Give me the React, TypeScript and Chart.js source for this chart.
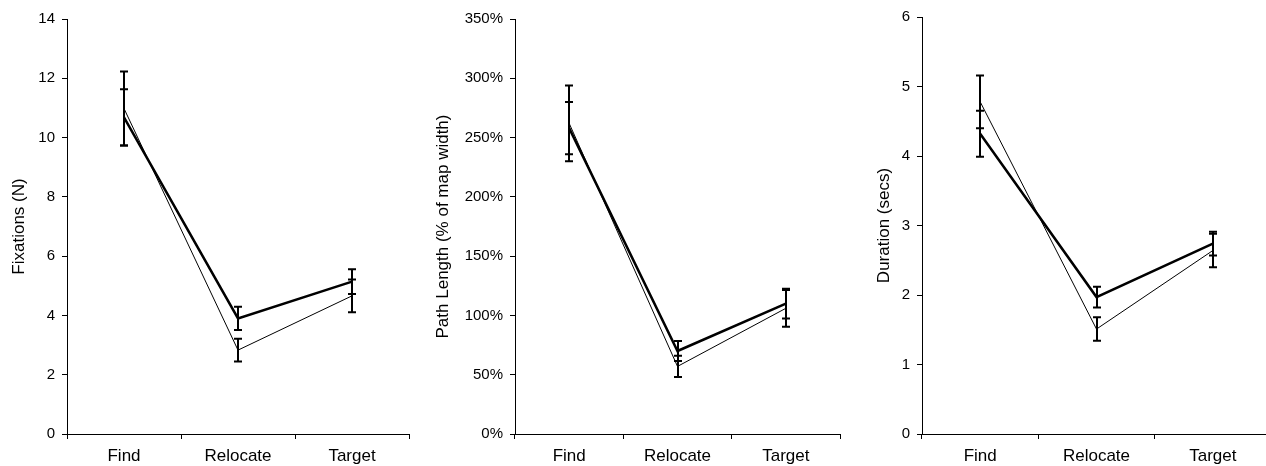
import React, { useEffect, useRef } from "react";
import { Chart, registerables } from "chart.js";

Chart.register(...registerables);

const categories = ["Find", "Relocate", "Target"];

// Panel 1: Fixations (N)
const fixThick = [10.68, 3.9, 5.14];
const fixThickErr = [0.95, 0.39, 0.42];
const fixThin = [10.98, 2.83, 4.66];
const fixThinErr = [1.25, 0.38, 0.55];

// Panel 2: Path length (% of map width)
const pathThick = [258, 70, 110];
const pathThickErr = [22, 8.5, 12.5];
const pathThin = [262, 57, 106];
const pathThinErr = [32, 9, 15.5];

// Panel 3: Duration (secs)
const durThick = [4.32, 1.97, 2.74];
const durThickErr = [0.33, 0.15, 0.17];
const durThin = [4.78, 1.51, 2.64];
const durThinErr = [0.38, 0.17, 0.24];

const FONT = "'Liberation Sans', Arial, Helvetica, sans-serif";

const errorBars = {
  id: "errorBars",
  afterDatasetsDraw(chart: any) {
    const ctx = chart.ctx;
    const xs = chart.scales.x;
    const ys = chart.scales.y;
    chart.data.datasets.forEach((ds: any) => {
      const errs = ds.errors || [];
      ds.data.forEach((v: number, i: number) => {
        const e = errs[i];
        if (e == null) return;
        const px = Math.round(xs.getPixelForValue(i));
        const top = ys.getPixelForValue(v + e);
        const bot = ys.getPixelForValue(v - e);
        ctx.save();
        ctx.strokeStyle = "#000";
        ctx.lineWidth = 2;
        ctx.beginPath();
        ctx.moveTo(px, top);
        ctx.lineTo(px, bot);
        ctx.moveTo(px - 4, top);
        ctx.lineTo(px + 4, top);
        ctx.moveTo(px - 4, bot);
        ctx.lineTo(px + 4, bot);
        ctx.stroke();
        ctx.restore();
      });
    });
  },
};

type PanelProps = {
  left: number;
  width: number;
  yWidth: number;
  padRight: number;
  padTop: number;
  titlePad: number;
  title: string;
  thick: number[];
  thickErr: number[];
  thin: number[];
  thinErr: number[];
  yMax: number;
  yStep: number;
  fmt: (v: number) => string;
};

function Panel(p: PanelProps) {
  const ref = useRef<HTMLCanvasElement | null>(null);
  useEffect(() => {
    if (!ref.current) return;
    const chart = new Chart(ref.current, {
      type: "line",
      data: {
        labels: categories,
        datasets: [
          {
            data: p.thin,
            errors: p.thinErr,
            borderColor: "#000",
            borderWidth: 1,
            pointRadius: 0,
            tension: 0,
          } as any,
          {
            data: p.thick,
            errors: p.thickErr,
            borderColor: "#000",
            borderWidth: 2.5,
            pointRadius: 0,
            tension: 0,
          } as any,
        ],
      },
      options: {
        responsive: false,
        animation: false,
        events: [],
        layout: { padding: { left: 0, right: p.padRight, top: p.padTop, bottom: 0 } },
        plugins: { legend: { display: false }, tooltip: { enabled: false } },
        scales: {
          x: {
            type: "category",
            offset: true,
            grid: {
              offset: true,
              drawOnChartArea: false,
              drawTicks: true,
              tickLength: 5,
              color: "#000",
            },
            border: { display: true, color: "#000", width: 1 },
            ticks: {
              color: "#000",
              font: { family: FONT, size: 17 },
              padding: 7,
              maxRotation: 0,
            },
            afterFit: (s: any) => {
              s.height = 32;
            },
          },
          y: {
            min: 0,
            max: p.yMax,
            grid: {
              drawOnChartArea: false,
              drawTicks: true,
              tickLength: 5,
              color: "#000",
            },
            border: { display: true, color: "#000", width: 1 },
            ticks: {
              stepSize: p.yStep,
              color: "#000",
              font: { family: FONT, size: 15 },
              padding: 7,
              callback: (v: any) => p.fmt(Number(v)),
            },
            title: {
              display: true,
              text: p.title,
              color: "#000",
              font: { family: FONT, size: 17, weight: "normal" },
              padding: { top: p.titlePad, bottom: 0 },
            },
            afterFit: (s: any) => {
              s.width = p.yWidth;
            },
          },
        },
      },
      plugins: [errorBars],
    } as any);
    return () => chart.destroy();
  }, []);
  return (
    <div style={{ position: "absolute", left: p.left, top: 0, width: p.width, height: 466 }}>
      <canvas ref={ref} width={p.width} height={466} style={{ width: p.width, height: 466, display: "block" }} />
    </div>
  );
}

export default function App() {
  return (
    <div
      style={{
        position: "fixed",
        left: 0,
        top: 0,
        width: 1266,
        height: 466,
        overflow: "hidden",
        background: "#fff",
      }}
    >
      <Panel
        left={0}
        width={420}
        yWidth={67}
        padRight={11}
        padTop={19}
        titlePad={9}
        title="Fixations (N)"
        thick={fixThick}
        thickErr={fixThickErr}
        thin={fixThin}
        thinErr={fixThinErr}
        yMax={14}
        yStep={2}
        fmt={(v) => String(v)}
      />
      <Panel
        left={420}
        width={430}
        yWidth={95}
        padRight={10}
        padTop={19}
        titlePad={13}
        title="Path Length (% of map width)"
        thick={pathThick}
        thickErr={pathThickErr}
        thin={pathThin}
        thinErr={pathThinErr}
        yMax={350}
        yStep={50}
        fmt={(v) => v + "%"}
      />
      <Panel
        left={850}
        width={430}
        yWidth={72}
        padRight={9}
        padTop={17}
        titlePad={24}
        title="Duration (secs)"
        thick={durThick}
        thickErr={durThickErr}
        thin={durThin}
        thinErr={durThinErr}
        yMax={6}
        yStep={1}
        fmt={(v) => String(v)}
      />
    </div>
  );
}
